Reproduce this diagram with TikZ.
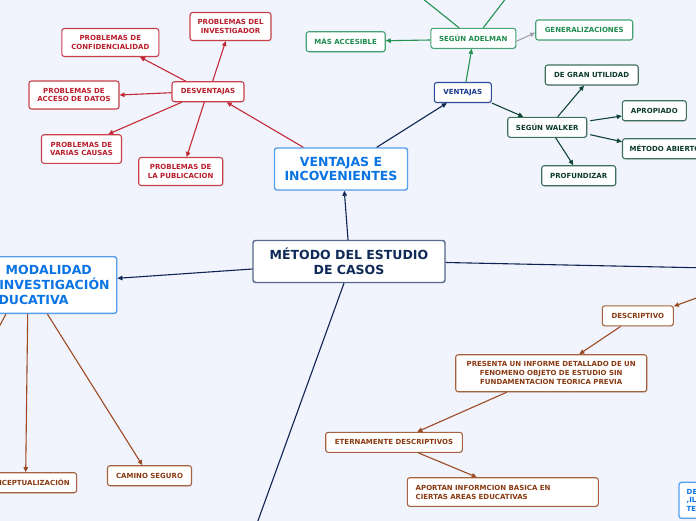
\documentclass[tikz,border=0pt]{standalone}
\usepackage{fontspec}
\setmainfont{DejaVu Sans}
\usetikzlibrary{arrows.meta,shadows}
\definecolor{bg}{HTML}{F1F4FD}
\definecolor{redt}{HTML}{BA1E2C}
\definecolor{redb}{HTML}{C8414A}
\definecolor{redl}{HTML}{C42A36}
\definecolor{bluet}{HTML}{0A74E4}
\definecolor{blueb}{HTML}{56A0EC}
\definecolor{navyt}{HTML}{0F2A58}
\definecolor{navyb}{HTML}{56698A}
\definecolor{navyl}{HTML}{0E2452}
\definecolor{vt}{HTML}{1B3A8C}
\definecolor{vb}{HTML}{2D4C9C}
\definecolor{greent}{HTML}{1E8C4E}
\definecolor{greenb}{HTML}{45A274}
\definecolor{greenl}{HTML}{23924F}
\definecolor{greyl}{HTML}{A0A0AA}
\definecolor{dgt}{HTML}{0C3B2C}
\definecolor{dgb}{HTML}{3F705E}
\definecolor{dgl}{HTML}{0F4535}
\definecolor{brt}{HTML}{8A3A12}
\definecolor{brb}{HTML}{A6623E}
\definecolor{brl}{HTML}{9C4A22}
\tikzset{
  box/.style={draw, rounded corners=2.5pt, line width=1.1pt, fill=white, inner sep=0pt,
    align=center, font=\fontsize{7}{8.7}\selectfont\bfseries,
    drop shadow={shadow xshift=0.6pt, shadow yshift=-0.8pt, opacity=0.15}},
  wh/.style 2 args={minimum width=#1pt, minimum height=#2pt},
  redbox/.style={box, draw=redb, text=redt},
  bluebig/.style={box, draw=blueb, text=bluet, line width=1.4pt, font=\fontsize{12.5}{14.7}\selectfont\bfseries},
  navybig/.style={box, draw=navyb, text=navyt, line width=1.4pt, font=\fontsize{12.5}{14.7}\selectfont\bfseries},
  vbox/.style={box, draw=vb, text=vt},
  greenbox/.style={box, draw=greenb, text=greent},
  dgbox/.style={box, draw=dgb, text=dgt},
  brbox/.style={box, draw=brb, text=brt},
  bluesmall/.style={box, draw=blueb, text=bluet, line width=1.3pt},
  arr/.style={-{Triangle[length=5pt,width=4.5pt]}, line width=1.1pt},
  plain/.style={line width=1.1pt},
}
\begin{document}
\begin{tikzpicture}[x=1pt,y=-1pt]
\useasboundingbox (0,0) rectangle (696,520);
\clip (0,0) rectangle (696,520);
\fill[bg] (-10,-10) rectangle (706,530);

% central
\node[navybig, wh={192}{42}] (met) at (349,261.5) {MÉTODO DEL ESTUDIO\\DE CASOS};
\node[bluebig, wh={133}{42}] (vei) at (341,169) {VENTAJAS E\\INCOVENIENTES};
\node[bluebig, wh={156.7}{56.6}, text width=156.7pt, align=left] (modal) at (38.35,285)
  {\makebox[156.7pt][l]{\hspace*{45.7pt}MODALIDAD}\\\makebox[156.7pt][l]{\hspace*{39.3pt}INVESTIGACIÓN}\\\makebox[156.7pt][l]{\hspace*{30pt}EDUCATIVA}};

% desventajas
\node[redbox, wh={72}{20}] (desv) at (208,91.7) {DESVENTAJAS};
\node[redbox, wh={97}{28}] (conf) at (110.3,42.5) {PROBLEMAS DE\\CONFIDENCIALIDAD};
\node[redbox, wh={81}{28}] (inv) at (230.5,26.5) {PROBLEMAS DEL\\INVESTIGADOR};
\node[redbox, wh={90}{28}] (acc) at (74,95) {PROBLEMAS DE\\ACCESO DE DATOS};
\node[redbox, wh={80}{28.6}] (var) at (81.5,149) {PROBLEMAS DE\\VARIAS CAUSAS};
\node[redbox, wh={84}{28}] (pub) at (180.7,171.5) {PROBLEMAS DE\\LA PUBLICACION};

% ventajas
\node[vbox, wh={57}{20}] (vent) at (462.8,92.5) {VENTAJAS};
\node[greenbox, wh={85}{20}] (adel) at (473.3,38.3) {SEGÚN ADELMAN};
\node[greenbox, wh={79}{20}] (mas) at (345.7,41.7) {MÁS ACCESIBLE};
\node[greenbox, wh={97}{20}] (gen) at (584.2,30) {GENERALIZACIONES};
\node[dgbox, wh={79}{20}] (walk) at (547.2,127.3) {SEGÚN WALKER};
\node[dgbox, wh={93}{20}] (gran) at (591.7,75) {DE GRAN UTILIDAD};
\node[dgbox, wh={64}{20}] (apro) at (654.3,110.7) {APROPIADO};
\node[dgbox, wh={85}{20}] (abie) at (665,148.7) {MÉTODO ABIERTO};
\node[dgbox, wh={74}{20}] (prof) at (578.7,175.7) {PROFUNDIZAR};

% modalidad children
\node[brbox, wh={98.7}{20}] (conc) at (27.3,482.7) {CONCEPTUALIZACIÓN};
\node[brbox, wh={84}{20}] (cam) at (149.5,475.7) {CAMINO SEGURO};

% descriptive branch
\node[brbox, wh={71}{20}] (desc) at (637.8,315.8) {DESCRIPTIVO};
\node[brbox, wh={191}{37}, font=\fontsize{7}{8.9}\selectfont\bfseries] (pres) at (551.2,373.2)
  {PRESENTA UN INFORME DETALLADO DE UN\\FENOMENO OBJETO DE ESTUDIO SIN\\FUNDAMENTACION TEORICA PREVIA};
\node[brbox, wh={136.6}{20}] (eter) at (394,442.3) {ETERNAMENTE DESCRIPTIVOS};
\node[brbox, wh={191}{28.6}, text width=174.2pt, align=left, font=\fontsize{7}{9}\selectfont\bfseries] (apor) at (502.8,492)
  {APORTAN INFORMCION BASICA EN\\CIERTAS AREAS EDUCATIVAS};
\node[bluesmall, wh={80}{36}, text width=64.6pt, align=left, font=\fontsize{7}{8.5}\selectfont\bfseries] (deil) at (719,500.3)
  {DE\\,IL\\TE};

% free ends
\coordinate (dl) at (251,540);
\coordinate (rr) at (720,268.2);
\coordinate (up1) at (399.5,-20);
\coordinate (up2) at (520,-20);
\coordinate (mdl) at (-8,340);
\coordinate (drr) at (720,289.4);

% central connectors
\draw[arr, navyl] ([xshift=-1pt]met.north) -- ([xshift=3.3pt]vei.south);
\draw[arr, navyl] ([yshift=-7.5pt]met.west) -- ([yshift=6.7pt]modal.east);
\draw[plain, navyl] ([xshift=-5pt]met.south) -- (dl);
\draw[plain, navyl] ([yshift=-1pt]met.east) -- (rr);
\draw[arr, navyl] ([xshift=35.7pt]vei.north) -- ([xshift=-16pt]vent.south);
\draw[arr, redl] ([xshift=-37.7pt]vei.north) -- ([xshift=18.7pt]desv.south);

% desventajas connectors
\draw[arr, redl] ([xshift=-22.3pt]desv.north) -- ([xshift=29.7pt]conf.south);
\draw[arr, redl] ([xshift=4.7pt]desv.north) -- ([xshift=-4.8pt]inv.south);
\draw[arr, redl] ([yshift=-1pt]desv.west) -- ([yshift=0pt]acc.east);
\draw[arr, redl] ([xshift=-26.3pt]desv.south) -- ([xshift=26.8pt]var.north);
\draw[arr, redl] ([xshift=-3.7pt]desv.south) -- ([xshift=6pt]pub.north);

% ventajas connectors
\draw[arr, greenl] ([xshift=3.2pt]vent.north) -- ([xshift=-1.6pt]adel.south);
\draw[arr, greenl] ([yshift=-1.7pt]adel.west) -- ([yshift=1pt]mas.east);
\draw[arr, greyl] ([yshift=-3pt]adel.east) -- ([yshift=-2.7pt]gen.west);
\draw[plain, greenl] ([xshift=-14.3pt]adel.north) -- (up1);
\draw[plain, greenl] ([xshift=10pt]adel.north) -- (up2);
\draw[arr, dgl] (vent.south east) -- ([xshift=-23.9pt]walk.north);
\draw[arr, dgl] ([xshift=10.5pt]walk.north) -- ([xshift=-7.7pt]gran.south);
\draw[arr, dgl] ([xshift=3pt,yshift=6.6pt]walk.east) -- ([yshift=-5.3pt]apro.west);
\draw[arr, dgl] ([xshift=3pt,yshift=-7.4pt]walk.east) -- ([yshift=7pt]abie.west);
\draw[arr, dgl] ([xshift=8.5pt]walk.south) -- ([xshift=-5.4pt]prof.north);

% modalidad connectors
\draw[plain, brl] ([xshift=-32.35pt]modal.south) -- (mdl);
\draw[arr, brl] ([xshift=-10.65pt]modal.south) -- ([xshift=-1.6pt]conc.north);
\draw[arr, brl] ([xshift=9pt]modal.south) -- ([xshift=-7.2pt]cam.north);

% descriptive connectors
\draw[arr, brl] (drr) -- ([yshift=-1pt]desc.north east);
\draw[arr, brl] ([xshift=-17.1pt]desc.south) -- ([xshift=28.1pt]pres.north);
\draw[arr, brl] ([xshift=-44.5pt]pres.south) -- ([xshift=23.3pt]eter.north);
\draw[arr, brl] ([xshift=24.3pt]eter.south) -- ([xshift=-26.1pt]apor.north);
\end{tikzpicture}
\end{document}
